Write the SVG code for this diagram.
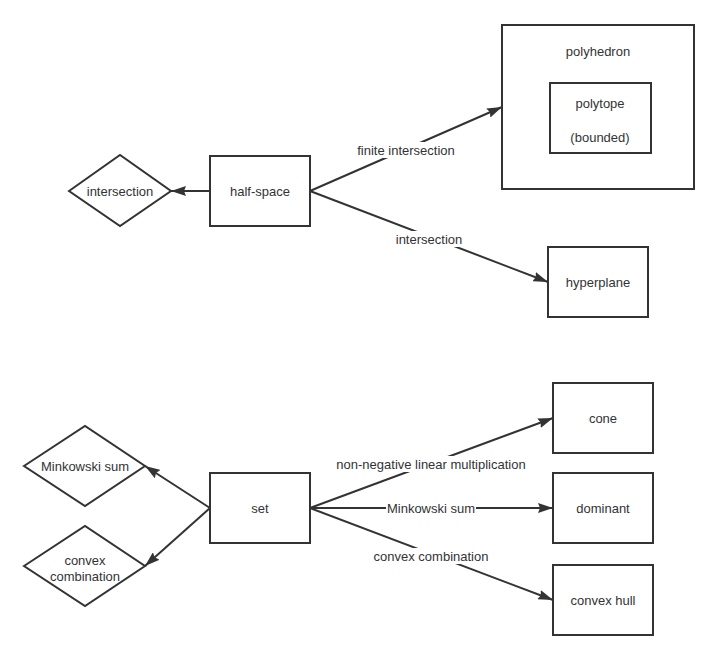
<svg xmlns="http://www.w3.org/2000/svg" width="718" height="660" viewBox="0 0 718 660">
<style>
.node{fill:#fff;stroke:#333;stroke-width:2}
.t{font-family:"Liberation Sans",Arial,sans-serif;font-size:13px;fill:#333;text-anchor:middle;dominant-baseline:central}
.e{stroke:#333;stroke-width:2;fill:none}
.lb{fill:#fff}
</style>
<defs>
<marker id="arr" markerUnits="userSpaceOnUse" viewBox="0 0 15 10" markerWidth="15" markerHeight="10" refX="15" refY="5" orient="auto">
<path d="M0,0 L15,5 L0,10 L2,5 z" fill="#333"/>
</marker>
</defs>
<rect width="718" height="660" fill="#fff"/>
<g id="connectors">
<line class="e" x1="210" y1="191" x2="171" y2="191" marker-end="url(#arr)"/>
<line class="e" x1="310" y1="191" x2="502" y2="107" marker-end="url(#arr)"/>
<line class="e" x1="310" y1="191" x2="548" y2="282" marker-end="url(#arr)"/>
<line class="e" x1="210" y1="508" x2="145" y2="466" marker-end="url(#arr)"/>
<line class="e" x1="210" y1="508" x2="145" y2="566" marker-end="url(#arr)"/>
<line class="e" x1="310" y1="508" x2="553" y2="418" marker-end="url(#arr)"/>
<line class="e" x1="310" y1="508" x2="553" y2="508" marker-end="url(#arr)"/>
<line class="e" x1="310" y1="508" x2="553" y2="600" marker-end="url(#arr)"/>
<rect class="lb" x="356" y="142" width="100" height="16"/>
<text class="t" x="406" y="150">finite intersection</text>
<rect class="lb" x="394" y="231" width="70" height="16"/>
<text class="t" x="429" y="239">intersection</text>
<rect class="lb" x="335" y="456" width="192" height="16"/>
<text class="t" x="431" y="464">non-negative linear multiplication</text>
<rect class="lb" x="386" y="500" width="90" height="16"/>
<text class="t" x="431" y="508">Minkowski sum</text>
<rect class="lb" x="373" y="548" width="116" height="16"/>
<text class="t" x="431" y="556">convex combination</text>
</g>
<g id="intersection">
<polygon class="node" points="69,191 120,155 171,191 120,226"/>
<text class="t" x="120" y="191">intersection</text>
</g>
<g id="half-space">
<rect class="node" x="210" y="156" width="100" height="70"/>
<text class="t" x="260" y="191">half-space</text>
</g>
<g id="polyhedron">
<rect class="node" x="502" y="25" width="192" height="164"/>
<text class="t" x="598" y="51">polyhedron</text>
</g>
<g id="polytope">
<rect class="node" x="550" y="83" width="101" height="70"/>
<text class="t" x="600" y="103">polytope</text>
<text class="t" x="600" y="137">(bounded)</text>
</g>
<g id="hyperplane">
<rect class="node" x="548" y="247" width="100" height="70"/>
<text class="t" x="598" y="282">hyperplane</text>
</g>
<g id="minkowski-sum">
<polygon class="node" points="24,466 85,426 145,466 85,506"/>
<text class="t" x="85" y="466">Minkowski sum</text>
</g>
<g id="convex-combination">
<polygon class="node" points="24,566 85,526 145,566 85,606"/>
<text class="t" x="85" y="560">convex</text>
<text class="t" x="85" y="576">combination</text>
</g>
<g id="set">
<rect class="node" x="210" y="473" width="100" height="70"/>
<text class="t" x="260" y="508">set</text>
</g>
<g id="cone">
<rect class="node" x="553" y="383" width="100" height="70"/>
<text class="t" x="603" y="418">cone</text>
</g>
<g id="dominant">
<rect class="node" x="553" y="473" width="100" height="70"/>
<text class="t" x="603" y="508">dominant</text>
</g>
<g id="convex-hull">
<rect class="node" x="553" y="565" width="100" height="70"/>
<text class="t" x="603" y="600">convex hull</text>
</g>
</svg>
